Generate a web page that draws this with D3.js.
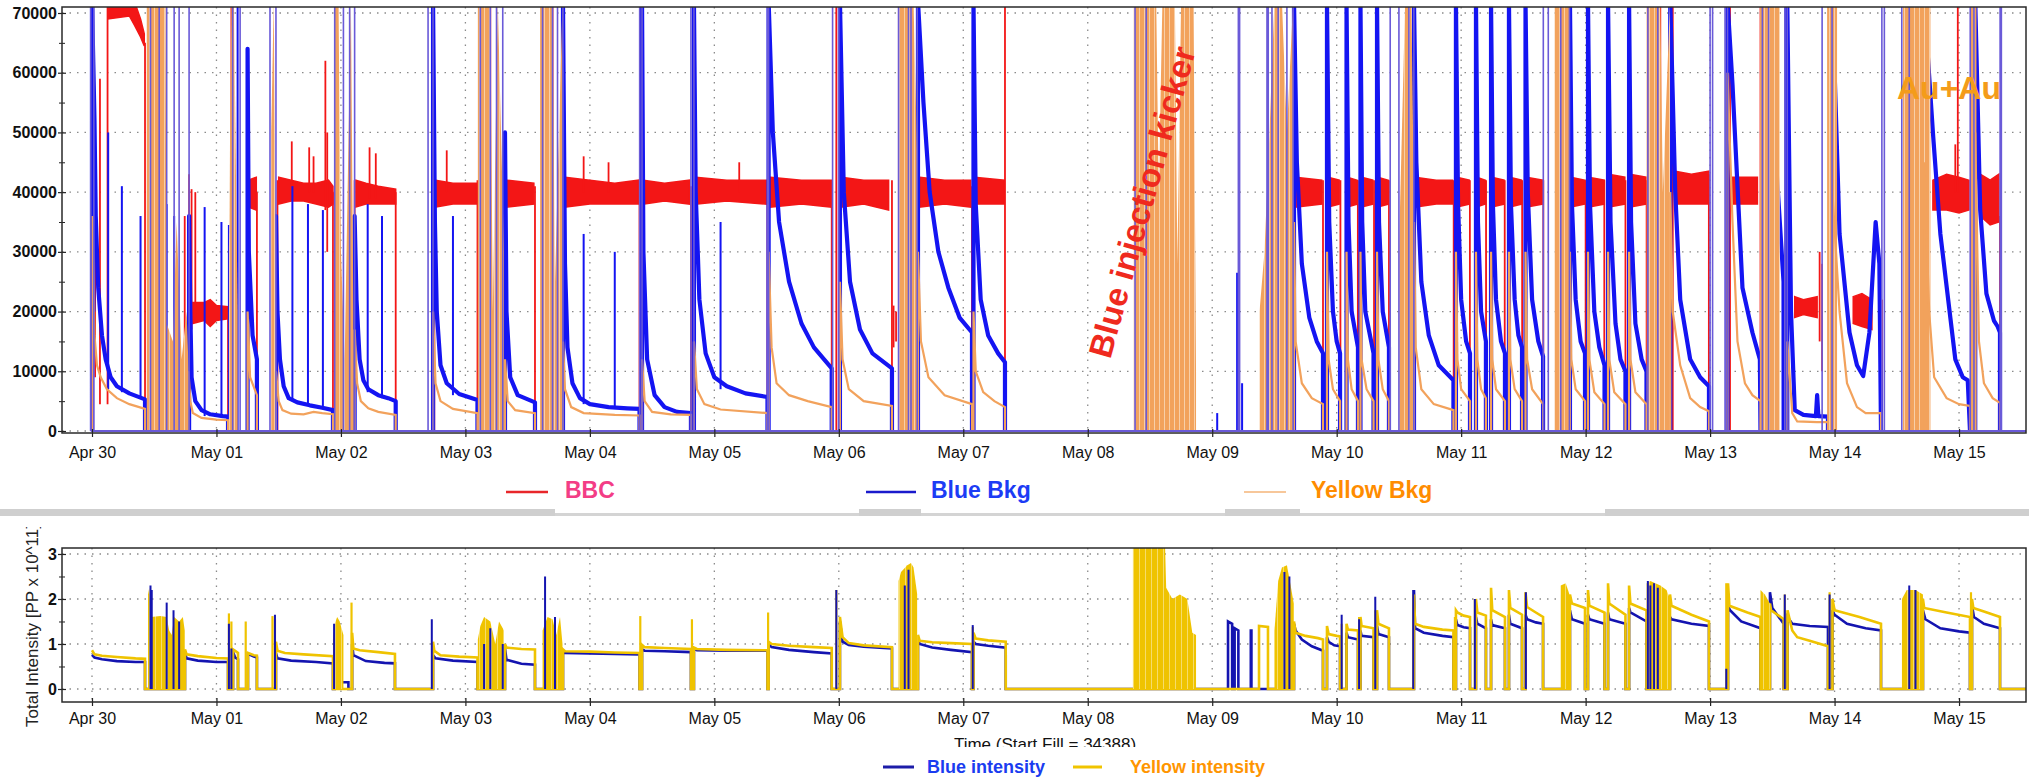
<!DOCTYPE html>
<html>
<head>
<meta charset="utf-8">
<script src="https://cdn.jsdelivr.net/npm/d3@7"></script>
<style>
  body { margin: 0; background: #fff; }
  svg { display: block; font-family: "Liberation Sans", Arial, Helvetica, sans-serif; }
</style>
</head>
<body>
<svg id="chart"></svg>
<script>
// Time is in days since Apr 30 00:00
const day_labels = ["Apr 30", "May 01", "May 02", "May 03", "May 04", "May 05", "May 06", "May 07",
    "May 08", "May 09", "May 10", "May 11", "May 12", "May 13", "May 14", "May 15"]
const bkg_ticks = [0, 10000, 20000, 30000, 40000, 50000, 60000, 70000]
const bkg_minor_ticks = [5000, 15000, 25000, 35000, 45000, 55000, 65000]
const intensity_ticks = [0, 1, 2, 3]
const intensity_minor_ticks = [0.5, 1.5, 2.5]

// ---------- top panel: backgrounds ----------
// BBC noise band per store: [day, low, high]
const bbc_band = [
    [[0.13, 69000, 74000], [0.3, 69500, 74000], [0.34, 68000, 72000], [0.39, 66000, 69000], [0.42, 64500, 66500]],
    [[0.81, 18000, 21500], [0.9, 18500, 21500], [0.95, 17500, 22000], [1.0, 18500, 21000], [1.09, 18800, 20800]],
    [[1.255, 37500, 42000], [1.32, 37000, 42500]],
    [[1.5, 38000, 42500], [1.6, 38500, 42000], [1.7, 38500, 41500], [1.8, 38000, 41500], [1.9, 37500, 42000], [1.936, 38000, 41000]],
    [[2.12, 37500, 42000], [2.2, 38000, 41500], [2.3, 38000, 41000], [2.44, 38000, 40500]],
    [[2.76, 37500, 42000], [2.9, 38000, 41500], [3.09, 38000, 41500]],
    [[3.33, 37500, 42000], [3.55, 38000, 41500]],
    [[3.8, 37500, 42500], [4.0, 38000, 42000], [4.2, 38000, 41500], [4.39, 38000, 42000]],
    [[4.43, 38000, 42000], [4.6, 38500, 41500], [4.8, 38000, 42000]],
    [[4.85, 38000, 42500], [5.1, 38500, 42000], [5.42, 38000, 42000]],
    [[5.45, 37500, 42500], [5.7, 38000, 42000], [5.94, 37500, 42000]],
    [[6.02, 37500, 42500], [6.2, 38000, 42000], [6.4, 37000, 42000]],
    [[6.65, 37500, 42500], [6.85, 38000, 42000], [7.06, 37500, 42000]],
    [[7.09, 38000, 42500], [7.33, 38000, 42000]],
    [[9.67, 37500, 42500], [9.88, 38000, 42000]],
    [[9.93, 37500, 42500], [10.02, 38000, 42000]],
    [[10.085, 37500, 42500], [10.165, 38000, 42000]],
    [[10.2, 37500, 42500], [10.29, 38000, 42000]],
    [[10.33, 37500, 42500], [10.415, 38000, 42000]],
    [[10.63, 37500, 42500], [10.8, 38000, 42000], [10.93, 38000, 42000]],
    [[10.965, 37500, 42500], [11.065, 38000, 42000]],
    [[11.125, 37500, 42500], [11.195, 38000, 42000]],
    [[11.245, 37500, 42500], [11.345, 38000, 42000]],
    [[11.39, 37500, 42500], [11.485, 38000, 42000]],
    [[11.525, 37500, 42500], [11.655, 38000, 42000]],
    [[11.88, 37500, 42500], [11.99, 38000, 42000]],
    [[12.025, 37500, 42500], [12.15, 38000, 42000]],
    [[12.185, 37500, 43000], [12.315, 38000, 42500]],
    [[12.355, 37500, 43000], [12.485, 38000, 42500]],
    [[12.72, 38000, 43500], [12.85, 38000, 43000], [12.99, 38000, 43500]],
    [[13.18, 38000, 42500], [13.38, 38000, 42500]],
    [[13.68, 19000, 22500], [13.75, 19500, 22000], [13.86, 19000, 22500]],
    [[14.15, 18000, 22500], [14.22, 17500, 23000], [14.3, 17000, 22000]],
    [[14.79, 37000, 42000], [14.9, 37000, 43000], [15.0, 36500, 42500], [15.08, 37000, 42000]],
    [[15.17, 36000, 43000], [15.25, 34500, 42000], [15.32, 35000, 43000]],
]
// BBC single excursions: [day, from, to]
const bbc_spikes = [
    [0.008, 0, 36000], [0.025, 9000, 32000], [0.064, 4500, 59000], [0.125, 4500, 72000], [0.426, 0, 65000],
    [0.745, 0, 36000], [0.78, 0, 43000], [0.8, 17000, 40500], [0.83, 19000, 40000], [1.093, 0, 20000],
    [1.12, 0, 72000], [1.25, 0, 42000], [1.325, 0, 40000],
    [1.49, 0, 42000], [1.605, 41000, 48500], [1.745, 40000, 47500], [1.78, 40000, 46000], [1.875, 37000, 62000],
    [1.89, 30000, 50000], [1.936, 0, 40000], [1.97, 0, 72000], [2.11, 0, 42000], [2.23, 39000, 47500],
    [2.28, 39000, 46500], [2.44, 0, 40000], [2.75, 0, 45000], [2.85, 40000, 47000], [3.097, 0, 42000],
    [3.2, 0, 72000], [3.32, 0, 42000], [3.559, 0, 41000], [3.7, 0, 72000], [3.79, 0, 45000], [3.95, 40000, 46000],
    [4.15, 40000, 45000], [4.399, 0, 42000], [4.42, 0, 43000], [4.812, 0, 41000], [4.84, 0, 44000],
    [5.2, 40000, 45000], [5.427, 0, 40000], [5.44, 0, 43000], [5.943, 0, 42000], [5.98, 0, 72000],
    [6.01, 0, 42000], [6.427, 0, 42000], [6.44, 14000, 21000], [6.46, 15000, 20000], [6.55, 0, 72000],
    [6.64, 0, 43000], [7.07, 0, 41000], [7.085, 0, 42000], [7.335, 0, 72000],
    [8.44, 10000, 40000], [8.65, 0, 30000], [8.76, 0, 41000],
    [9.66, 0, 42000], [9.89, 0, 42000], [9.925, 0, 42000], [10.03, 0, 42000], [10.08, 0, 42000], [10.17, 0, 42000],
    [10.19, 0, 42000], [10.3, 0, 42000], [10.325, 0, 42000], [10.42, 0, 42000], [10.62, 0, 72000], [10.94, 0, 42000],
    [10.96, 0, 42000], [11.07, 0, 42000], [11.12, 0, 42000], [11.2, 0, 42000], [11.24, 0, 72000], [11.35, 0, 42000],
    [11.385, 0, 42000], [11.49, 0, 42000], [11.52, 0, 42000], [11.66, 0, 42000], [11.8, 0, 72000], [11.875, 0, 42000],
    [12.0, 0, 42000], [12.02, 0, 42000], [12.15, 0, 42000], [12.18, 0, 72000], [12.32, 0, 42000], [12.35, 0, 42000],
    [12.49, 0, 42000], [12.55, 0, 72000], [12.6, 0, 72000], [12.7, 0, 72000], [12.99, 0, 43000], [13.16, 0, 72000],
    [13.405, 0, 72000], [13.42, 0, 72000], [13.5, 0, 72000], [13.88, 15000, 30000], [13.9, 10000, 28000],
    [14.0, 0, 72000], [14.38, 0, 22000], [14.6, 0, 72000], [14.97, 40000, 48000], [14.99, 40000, 72000], [15.329, 0, 36000],
]
// Blue Bkg per store: [day, counts]
const blue_bkg = [
    [[0, 0], [0, 72000], [0.02, 52000], [0.03, 36000], [0.05, 24000], [0.08, 16000], [0.11, 12000], [0.15, 9000], [0.2, 7500], [0.3, 6300], [0.426, 5300], [0.426, 0]],
    [[0.78, 0], [0.78, 36000], [0.79, 20000], [0.8, 9000], [0.83, 5000], [0.88, 3500], [0.95, 2800], [1.05, 2500], [1.093, 2400], [1.093, 0]],
    [[1.25, 0], [1.25, 64000], [1.26, 30000], [1.29, 16000], [1.325, 12000], [1.325, 0]],
    [[1.478, 0], [1.478, 36000], [1.49, 20000], [1.51, 12000], [1.54, 7500], [1.58, 5500], [1.65, 4800], [1.75, 4300], [1.85, 3900], [1.936, 3500], [1.936, 0]],
    [[2.11, 0], [2.11, 36000], [2.125, 22000], [2.15, 12000], [2.18, 8500], [2.22, 7000], [2.3, 6000], [2.38, 5500], [2.44, 5000], [2.44, 0]],
    [[2.74, 0], [2.74, 72000], [2.755, 35000], [2.77, 20000], [2.8, 11000], [2.85, 8000], [2.95, 6200], [3.097, 5200], [3.097, 0]],
    [[3.318, 0], [3.318, 50000], [3.33, 20000], [3.36, 9000], [3.42, 6000], [3.559, 4800], [3.559, 0]],
    [[3.784, 0], [3.784, 72000], [3.8, 28000], [3.82, 14000], [3.86, 8000], [3.92, 5500], [4.0, 4500], [4.15, 4000], [4.3, 3800], [4.399, 3700], [4.399, 0]],
    [[4.419, 0], [4.419, 72000], [4.43, 30000], [4.46, 12000], [4.52, 6000], [4.6, 4000], [4.7, 3200], [4.812, 3000], [4.812, 0]],
    [[4.836, 0], [4.836, 72000], [4.85, 40000], [4.88, 22000], [4.93, 13000], [5.0, 9000], [5.1, 7500], [5.25, 6300], [5.427, 5700], [5.427, 0]],
    [[5.436, 0], [5.436, 72000], [5.47, 50000], [5.52, 35000], [5.6, 25000], [5.7, 18000], [5.8, 14000], [5.943, 10500], [5.943, 0]],
    [[6.009, 0], [6.009, 72000], [6.04, 40000], [6.09, 25000], [6.17, 17000], [6.27, 13000], [6.427, 10500], [6.427, 0]],
    [[6.636, 0], [6.636, 72000], [6.68, 55000], [6.73, 40000], [6.8, 30000], [6.88, 24000], [6.97, 19000], [7.07, 16500], [7.07, 0]],
    [[7.082, 0], [7.082, 72000], [7.1, 38000], [7.14, 22000], [7.2, 16000], [7.28, 13000], [7.335, 11500], [7.335, 0]],
    [[9.657, 0], [9.657, 72000], [9.68, 45000], [9.72, 28000], [9.78, 19000], [9.84, 15000], [9.89, 13000], [9.89, 0]],
    [[9.922, 0], [9.922, 72000], [9.94, 35000], [9.97, 20000], [10.0, 15000], [10.027, 13000], [10.027, 0]],
    [[10.079, 0], [10.079, 72000], [10.095, 35000], [10.12, 20000], [10.171, 14000], [10.171, 0]],
    [[10.191, 0], [10.191, 72000], [10.205, 35000], [10.23, 20000], [10.296, 13000], [10.296, 0]],
    [[10.324, 0], [10.324, 72000], [10.34, 35000], [10.37, 20000], [10.42, 14000], [10.42, 0]],
    [[10.621, 0], [10.621, 72000], [10.64, 45000], [10.68, 25000], [10.74, 16000], [10.82, 11000], [10.938, 8500], [10.938, 0]],
    [[10.958, 0], [10.958, 72000], [10.975, 38000], [11.0, 22000], [11.04, 15000], [11.071, 13000], [11.071, 0]],
    [[11.119, 0], [11.119, 72000], [11.135, 35000], [11.16, 20000], [11.199, 15000], [11.199, 0]],
    [[11.24, 0], [11.24, 72000], [11.255, 38000], [11.28, 22000], [11.32, 15000], [11.352, 13000], [11.352, 0]],
    [[11.384, 0], [11.384, 72000], [11.4, 38000], [11.43, 22000], [11.46, 16000], [11.489, 14000], [11.489, 0]],
    [[11.517, 0], [11.517, 72000], [11.535, 40000], [11.57, 22000], [11.62, 15000], [11.658, 12500], [11.658, 0]],
    [[11.874, 0], [11.874, 72000], [11.89, 38000], [11.92, 22000], [11.96, 15000], [11.995, 13000], [11.995, 0]],
    [[12.019, 0], [12.019, 72000], [12.035, 38000], [12.07, 20000], [12.11, 14000], [12.152, 11000], [12.152, 0]],
    [[12.18, 0], [12.18, 72000], [12.2, 35000], [12.24, 18000], [12.28, 12000], [12.32, 10000], [12.32, 0]],
    [[12.349, 0], [12.349, 72000], [12.365, 35000], [12.4, 18000], [12.45, 12000], [12.489, 10000], [12.489, 0]],
    [[12.68, 0], [12.68, 72000], [12.72, 40000], [12.76, 22000], [12.84, 12000], [12.92, 9000], [12.991, 7500], [12.991, 0]],
    [[13.14, 0], [13.14, 72000], [13.18, 58000], [13.26, 24000], [13.34, 16500], [13.4, 12000], [13.405, 0]],
    [[13.481, 0], [13.481, 72000], [13.53, 45000], [13.59, 25000], [13.591, 0]],
    [[13.62, 0], [13.62, 72000], [13.65, 20000], [13.68, 3500], [13.75, 2700], [13.85, 2500], [13.86, 6000], [13.87, 2500], [13.947, 2400], [13.947, 0]],
    [[13.983, 0], [13.983, 72000], [14.04, 33000], [14.12, 16500], [14.18, 11000], [14.23, 9200], [14.28, 16500], [14.33, 35000], [14.36, 28000], [14.373, 0]],
    [[14.72, 0], [14.72, 72000], [14.79, 50000], [14.85, 33000], [14.93, 19000], [14.97, 12000], [15.03, 9000], [15.07, 8500], [15.088, 0]],
    [[15.13, 0], [15.13, 72000], [15.17, 37000], [15.22, 23000], [15.28, 18500], [15.31, 17500], [15.329, 16500], [15.329, 0]],
]
const blue_bkg_spikes = [
    [0.02, 20000, 47000], [0.13, 7000, 50000], [0.24, 6500, 41000], [0.39, 5500, 36000], [0.6, 0, 38000], [0.66, 0, 36000],
    [0.905, 2500, 37500], [1.04, 2400, 35000], [1.1, 0, 34500], [1.17, 0, 72000], [1.61, 5000, 41000], [1.735, 4500, 38000],
    [1.855, 4000, 37000], [2.215, 6500, 38000], [2.33, 5500, 36000], [2.9, 6000, 36000], [3.95, 4500, 33000],
    [4.2, 4000, 30000], [5.05, 7000, 35000], [9.04, 0, 3000], [9.2, 0, 26500], [9.24, 0, 8000],
]
// Yellow Bkg per store: [day, counts]
const yellow_bkg = [
    [[0.005, 0], [0.005, 36000], [0.02, 16000], [0.04, 11000], [0.07, 9000], [0.12, 7000], [0.2, 5500], [0.3, 4500], [0.426, 3700], [0.426, 0]],
    [[0.775, 0], [0.775, 10000], [0.79, 5000], [0.81, 3000], [0.88, 2200], [1.0, 1900], [1.093, 1800], [1.093, 0]],
    [[1.25, 0], [1.25, 20000], [1.27, 9000], [1.325, 6000], [1.325, 0]],
    [[1.478, 0], [1.478, 10000], [1.5, 5000], [1.53, 3500], [1.6, 2900], [1.7, 2800], [1.78, 3200], [1.85, 3000], [1.936, 2800], [1.936, 0]],
    [[2.11, 0], [2.11, 17000], [2.13, 8000], [2.16, 5000], [2.22, 3800], [2.3, 3200], [2.44, 2700], [2.44, 0]],
    [[2.74, 0], [2.74, 20000], [2.76, 8000], [2.8, 5000], [2.9, 3700], [3.097, 3000], [3.097, 0]],
    [[3.318, 0], [3.318, 12000], [3.34, 5000], [3.4, 3500], [3.559, 3000], [3.559, 0]],
    [[3.784, 0], [3.784, 15000], [3.8, 7000], [3.85, 4000], [3.95, 3000], [4.2, 2700], [4.399, 2600], [4.399, 0]],
    [[4.419, 0], [4.419, 12000], [4.44, 5000], [4.5, 3200], [4.65, 2800], [4.812, 2700], [4.812, 0]],
    [[4.836, 0], [4.836, 15000], [4.86, 7000], [4.92, 4500], [5.05, 3600], [5.427, 3000], [5.427, 0]],
    [[5.436, 0], [5.436, 30000], [5.46, 14000], [5.5, 8000], [5.6, 6000], [5.75, 5000], [5.943, 4000], [5.943, 0]],
    [[6.009, 0], [6.009, 25000], [6.03, 12000], [6.08, 7000], [6.2, 5000], [6.427, 4200], [6.427, 0]],
    [[6.636, 0], [6.636, 30000], [6.66, 15000], [6.72, 9000], [6.85, 6000], [7.07, 4500], [7.07, 0]],
    [[7.082, 0], [7.082, 20000], [7.1, 10000], [7.16, 6500], [7.25, 5000], [7.335, 4000], [7.335, 0]],
    [[9.657, 0], [9.657, 35000], [9.67, 15000], [9.72, 8000], [9.8, 5500], [9.89, 4500], [9.89, 0]],
    [[9.922, 0], [9.922, 30000], [9.935, 12000], [9.97, 7000], [10.027, 5000], [10.027, 0]],
    [[10.079, 0], [10.079, 30000], [10.09, 12000], [10.12, 7000], [10.171, 5000], [10.171, 0]],
    [[10.191, 0], [10.191, 30000], [10.2, 12000], [10.24, 7000], [10.296, 5000], [10.296, 0]],
    [[10.324, 0], [10.324, 30000], [10.335, 12000], [10.37, 7000], [10.42, 5000], [10.42, 0]],
    [[10.621, 0], [10.621, 35000], [10.635, 14000], [10.68, 7000], [10.78, 4500], [10.938, 3500], [10.938, 0]],
    [[10.958, 0], [10.958, 30000], [10.97, 12000], [11.0, 7000], [11.071, 5000], [11.071, 0]],
    [[11.119, 0], [11.119, 30000], [11.13, 12000], [11.16, 7000], [11.199, 5500], [11.199, 0]],
    [[11.24, 0], [11.24, 30000], [11.25, 12000], [11.28, 7000], [11.352, 5000], [11.352, 0]],
    [[11.384, 0], [11.384, 30000], [11.395, 12000], [11.43, 7000], [11.489, 5000], [11.489, 0]],
    [[11.517, 0], [11.517, 30000], [11.53, 12000], [11.57, 7000], [11.658, 4500], [11.658, 0]],
    [[11.874, 0], [11.874, 30000], [11.885, 12000], [11.92, 7000], [11.995, 5000], [11.995, 0]],
    [[12.019, 0], [12.019, 30000], [12.03, 12000], [12.07, 6500], [12.152, 4500], [12.152, 0]],
    [[12.18, 0], [12.18, 30000], [12.19, 12000], [12.23, 6500], [12.32, 4500], [12.32, 0]],
    [[12.349, 0], [12.349, 30000], [12.36, 12000], [12.4, 6500], [12.489, 4500], [12.489, 0]],
    [[12.68, 0], [12.68, 40000], [12.7, 20000], [12.76, 11000], [12.84, 5500], [12.92, 4000], [12.991, 3300], [12.991, 0]],
    [[13.14, 0], [13.14, 60000], [13.18, 35000], [13.22, 15000], [13.28, 8000], [13.34, 6000], [13.405, 5000], [13.405, 0]],
    [[13.62, 0], [13.62, 15000], [13.66, 3000], [13.7, 1600], [13.86, 1500], [13.947, 1500], [13.947, 0]],
    [[13.983, 0], [13.983, 40000], [14.04, 20000], [14.1, 8000], [14.18, 4000], [14.25, 3000], [14.373, 3000], [14.373, 0]],
    [[14.72, 0], [14.72, 45000], [14.76, 20000], [14.8, 9000], [14.9, 5500], [15.0, 4500], [15.088, 4200], [15.088, 0]],
    [[15.13, 0], [15.13, 50000], [15.16, 15000], [15.2, 8000], [15.27, 5500], [15.329, 4700], [15.329, 0]],
]
// dense Yellow Bkg bursts during injection: [day, envelope top]
const yellow_bkg_bursts = [
    [[0.44, 72000], [0.59, 72000], [0.6, 18000], [0.65, 15000], [0.68, 35000], [0.72, 12000], [0.76, 20000], [0.78, 8000]],
    [[1.1, 30000], [1.12, 72000], [1.14, 72000], [1.17, 20000]],
    [[1.44, 50000], [1.46, 72000], [1.478, 30000]],
    [[1.945, 72000], [1.98, 72000], [2.0, 30000], [2.03, 12000], [2.08, 72000], [2.1, 20000]],
    [[3.1, 72000], [3.2, 72000], [3.22, 20000], [3.26, 72000], [3.31, 30000]],
    [[3.6, 72000], [3.7, 72000], [3.72, 25000], [3.78, 72000]],
    [[6.475, 72000], [6.6, 72000], [6.636, 40000]],
    [[8.37, 72000], [8.55, 72000], [8.57, 40000], [8.6, 72000], [8.7, 72000], [8.72, 28000], [8.75, 72000], [8.85, 72000], [8.87, 10000]],
    [[9.38, 20000], [9.42, 30000], [9.46, 50000], [9.5, 72000], [9.56, 72000], [9.6, 50000], [9.65, 72000]],
    [[10.5, 30000], [10.55, 72000], [10.6, 72000], [10.62, 40000]],
    [[11.75, 72000], [11.87, 72000]],
    [[12.49, 72000], [12.6, 72000], [12.62, 40000], [12.678, 72000]],
    [[13.4, 72000], [13.56, 72000]],
    [[13.94, 72000], [14.02, 72000]],
    [[14.55, 72000], [14.77, 72000]],
    [[15.09, 72000], [15.14, 72000]],
]
// both backgrounds off scale: [from day, to day]
const off_scale = [
    [-0.01, 0.015], [0.47, 0.54], [0.6, 0.66], [0.7, 0.78], [1.13, 1.19], [1.43, 1.478], [1.95, 2.02], [2.07, 2.11],
    [2.7, 2.74], [3.12, 3.2], [3.25, 3.3], [3.62, 3.7], [3.74, 3.784], [4.4, 4.419], [4.812, 4.836], [5.427, 5.436],
    [5.95, 6.0], [6.48, 6.56], [6.58, 6.63], [8.38, 8.47], [9.21, 9.22], [9.44, 9.45], [9.48, 9.53], [9.6, 9.65],
    [10.43, 10.5], [10.58, 10.62], [11.66, 11.7], [11.8, 11.87], [12.5, 12.58], [13.0, 13.02], [13.12, 13.14],
    [13.42, 13.47], [13.6, 13.62], [13.9, 13.98], [14.38, 14.4], [14.54, 14.6], [15.09, 15.12], [15.33, 15.34],
]

// ---------- bottom panel: intensities [day, 10^11] ----------
const blue_intensity = [
    [0, 0.76], [0.02, 0.7], [0.08, 0.66], [0.2, 0.62], [0.35, 0.6], [0.426, 0.6], [0.426, 0],
    [0.747, 0], [0.747, 0.8], [0.76, 0.68], [0.85, 0.63], [1.0, 0.6], [1.093, 0.6], [1.093, 0],
    [1.133, 0], [1.133, 0.82], [1.15, 0.7], [1.173, 0.66], [1.173, 0],
    [1.253, 0], [1.253, 0.78], [1.3, 0.72], [1.325, 0.7], [1.325, 0],
    [1.478, 0], [1.478, 0.8], [1.49, 0.68], [1.6, 0.63], [1.8, 0.6], [1.936, 0.57], [1.936, 0],
    [1.95, 0], [1.95, 0.15], [2.06, 0.15], [2.06, 0],
    [2.09, 0], [2.09, 1.0], [2.1, 0.75], [2.2, 0.62], [2.35, 0.58], [2.434, 0.57], [2.434, 0],
    [2.74, 0], [2.74, 0.75], [2.76, 0.68], [2.9, 0.63], [3.097, 0.6], [3.097, 0],
    [3.318, 0], [3.318, 0.9], [3.33, 0.65], [3.45, 0.56], [3.559, 0.54], [3.559, 0],
    [3.784, 0], [3.784, 0.85], [3.8, 0.8], [4.0, 0.79], [4.2, 0.78], [4.399, 0.77], [4.399, 0],
    [4.419, 0], [4.419, 0.88], [4.44, 0.85], [4.6, 0.84], [4.812, 0.82], [4.812, 0],
    [4.836, 0], [4.836, 0.9], [4.86, 0.86], [5.1, 0.85], [5.427, 0.85], [5.427, 0],
    [5.436, 0], [5.436, 1.0], [5.46, 0.93], [5.6, 0.87], [5.8, 0.82], [5.943, 0.79], [5.943, 0],
    [6.009, 0], [6.009, 1.5], [6.03, 1.05], [6.08, 0.98], [6.2, 0.94], [6.427, 0.9], [6.427, 0],
    [6.636, 0], [6.636, 1.1], [6.65, 1.0], [6.75, 0.92], [6.9, 0.87], [7.07, 0.82], [7.07, 0],
    [7.082, 0], [7.082, 1.05], [7.1, 1.0], [7.2, 0.96], [7.341, 0.92], [7.341, 0],
    [9.127, 0], [9.127, 1.5], [9.16, 1.45], [9.16, 0], [9.18, 0], [9.18, 1.35], [9.21, 1.3], [9.21, 0],
    [9.31, 0], [9.31, 1.3], [9.315, 1.3], [9.315, 0],
    [9.657, 0], [9.657, 1.45], [9.67, 1.3], [9.72, 1.1], [9.8, 0.95], [9.89, 0.85], [9.89, 0],
    [9.922, 0], [9.922, 1.15], [9.935, 1.05], [9.98, 0.97], [10.027, 0.95], [10.027, 0],
    [10.079, 0], [10.079, 1.25], [10.09, 1.15], [10.171, 1.1], [10.171, 0],
    [10.191, 0], [10.191, 1.3], [10.2, 1.18], [10.296, 1.15], [10.296, 0],
    [10.324, 0], [10.324, 1.4], [10.335, 1.22], [10.42, 1.15], [10.42, 0],
    [10.621, 0], [10.621, 2.2], [10.63, 1.35], [10.7, 1.25], [10.85, 1.18], [10.938, 1.15], [10.938, 0],
    [10.958, 0], [10.958, 1.55], [10.97, 1.42], [11.02, 1.37], [11.071, 1.35], [11.071, 0],
    [11.119, 0], [11.119, 1.6], [11.13, 1.45], [11.199, 1.35], [11.199, 0],
    [11.24, 0], [11.24, 1.55], [11.25, 1.42], [11.352, 1.35], [11.352, 0],
    [11.384, 0], [11.384, 1.65], [11.395, 1.45], [11.489, 1.35], [11.489, 0],
    [11.517, 0], [11.517, 1.65], [11.53, 1.55], [11.6, 1.48], [11.658, 1.45], [11.658, 0],
    [11.874, 0], [11.874, 1.75], [11.89, 1.55], [11.995, 1.45], [11.995, 0],
    [12.019, 0], [12.019, 1.65], [12.03, 1.55], [12.152, 1.45], [12.152, 0],
    [12.18, 0], [12.18, 1.7], [12.19, 1.55], [12.32, 1.45], [12.32, 0],
    [12.349, 0], [12.349, 1.8], [12.36, 1.7], [12.489, 1.5], [12.489, 0],
    [12.678, 0], [12.678, 1.6], [12.69, 1.55], [12.85, 1.45], [12.991, 1.4], [12.991, 0],
    [13.144, 0], [13.144, 1.85], [13.16, 1.75], [13.25, 1.5], [13.405, 1.35], [13.405, 0],
    [13.481, 0], [13.481, 2.15], [13.5, 1.8], [13.591, 1.45], [13.591, 0],
    [13.622, 0], [13.622, 1.6], [13.66, 1.45], [13.8, 1.4], [13.947, 1.38], [13.947, 0],
    [13.983, 0], [13.983, 1.75], [14.0, 1.65], [14.1, 1.45], [14.25, 1.35], [14.373, 1.3], [14.373, 0],
    [14.71, 0], [14.71, 1.75], [14.73, 1.55], [14.85, 1.35], [15.0, 1.28], [15.088, 1.25], [15.088, 0],
    [15.104, 0], [15.104, 1.85], [15.12, 1.6], [15.2, 1.45], [15.329, 1.35], [15.329, 0],
    [15.54, 0],
]
const yellow_intensity = [
    [0, 0.86], [0.02, 0.77], [0.08, 0.74], [0.2, 0.71], [0.35, 0.68], [0.426, 0.67], [0.426, 0],
    [0.747, 0], [0.747, 0.88], [0.76, 0.77], [0.85, 0.73], [1.0, 0.69], [1.093, 0.68], [1.093, 0],
    [1.133, 0], [1.133, 0.88], [1.15, 0.85], [1.173, 0.8], [1.173, 0],
    [1.253, 0], [1.253, 0.8], [1.3, 0.75], [1.325, 0.74], [1.325, 0],
    [1.478, 0], [1.478, 1.05], [1.49, 0.85], [1.55, 0.8], [1.7, 0.77], [1.936, 0.73], [1.936, 0],
    [2.09, 0], [2.09, 1.25], [2.1, 0.9], [2.15, 0.86], [2.3, 0.82], [2.434, 0.78], [2.434, 0],
    [2.74, 0], [2.74, 1.05], [2.75, 0.85], [2.8, 0.75], [2.95, 0.72], [3.097, 0.7], [3.097, 0],
    [3.318, 0], [3.318, 1.0], [3.33, 0.92], [3.45, 0.89], [3.559, 0.88], [3.559, 0],
    [3.784, 0], [3.784, 0.88], [3.8, 0.84], [4.0, 0.83], [4.2, 0.81], [4.399, 0.8], [4.399, 0],
    [4.419, 0], [4.419, 0.98], [4.44, 0.93], [4.6, 0.91], [4.812, 0.89], [4.812, 0],
    [4.836, 0], [4.836, 0.92], [4.86, 0.89], [5.1, 0.87], [5.427, 0.86], [5.427, 0],
    [5.436, 0], [5.436, 1.05], [5.46, 1.0], [5.6, 0.96], [5.8, 0.93], [5.943, 0.91], [5.943, 0],
    [6.009, 0], [6.009, 1.6], [6.03, 1.15], [6.08, 1.02], [6.2, 0.97], [6.427, 0.93], [6.427, 0],
    [6.636, 0], [6.636, 1.2], [6.65, 1.07], [6.75, 1.04], [6.9, 1.02], [7.07, 1.0], [7.07, 0],
    [7.082, 0], [7.082, 1.25], [7.1, 1.12], [7.2, 1.08], [7.341, 1.05], [7.341, 0],
    [9.376, 0], [9.376, 1.4], [9.448, 1.38], [9.448, 0],
    [9.657, 0], [9.657, 1.5], [9.67, 1.25], [9.75, 1.18], [9.85, 1.13], [9.89, 1.1], [9.89, 0],
    [9.922, 0], [9.922, 1.4], [9.935, 1.22], [10.0, 1.18], [10.027, 1.17], [10.027, 0],
    [10.079, 0], [10.079, 1.45], [10.09, 1.32], [10.171, 1.3], [10.171, 0],
    [10.191, 0], [10.191, 1.6], [10.2, 1.4], [10.296, 1.35], [10.296, 0],
    [10.324, 0], [10.324, 1.75], [10.335, 1.45], [10.42, 1.35], [10.42, 0],
    [10.621, 0], [10.621, 2.1], [10.63, 1.45], [10.7, 1.38], [10.85, 1.32], [10.938, 1.3], [10.938, 0],
    [10.958, 0], [10.958, 1.75], [10.97, 1.7], [11.02, 1.63], [11.071, 1.6], [11.071, 0],
    [11.119, 0], [11.119, 2.0], [11.13, 1.7], [11.199, 1.63], [11.199, 0],
    [11.24, 0], [11.24, 2.25], [11.25, 1.75], [11.352, 1.6], [11.352, 0],
    [11.384, 0], [11.384, 2.2], [11.395, 1.8], [11.489, 1.65], [11.489, 0],
    [11.517, 0], [11.517, 2.15], [11.53, 1.82], [11.6, 1.7], [11.658, 1.6], [11.658, 0],
    [11.874, 0], [11.874, 2.1], [11.89, 1.9], [11.995, 1.8], [11.995, 0],
    [12.019, 0], [12.019, 2.2], [12.03, 1.85], [12.152, 1.7], [12.152, 0],
    [12.18, 0], [12.18, 2.35], [12.19, 1.9], [12.32, 1.65], [12.32, 0],
    [12.349, 0], [12.349, 2.3], [12.36, 1.9], [12.489, 1.75], [12.489, 0],
    [12.678, 0], [12.678, 2.1], [12.69, 1.85], [12.85, 1.65], [12.991, 1.5], [12.991, 0],
    [13.144, 0], [13.144, 2.35], [13.155, 1.85], [13.3, 1.7], [13.405, 1.6], [13.405, 0],
    [13.481, 0], [13.481, 1.9], [13.49, 1.75], [13.591, 1.55], [13.591, 0],
    [13.622, 0], [13.622, 1.75], [13.66, 1.3], [13.7, 1.15], [13.8, 1.07], [13.947, 0.95], [13.947, 0],
    [13.983, 0], [13.983, 2.0], [14.0, 1.75], [14.2, 1.6], [14.373, 1.45], [14.373, 0],
    [14.71, 0], [14.71, 2.0], [14.72, 1.8], [14.9, 1.7], [15.088, 1.6], [15.088, 0],
    [15.104, 0], [15.104, 2.0], [15.115, 1.8], [15.2, 1.72], [15.329, 1.6], [15.329, 0],
    [15.54, 0],
]
const yellow_intensity_bursts = [
    [[0.45, 2.1], [0.46, 2.25], [0.475, 1.6], [0.55, 1.62], [0.6, 1.6], [0.62, 1.3], [0.64, 1.2], [0.66, 1.6], [0.7, 1.5], [0.73, 1.6], [0.745, 1.3]],
    [[1.936, 1.1], [1.95, 1.45], [1.97, 1.6], [1.99, 1.5], [2.02, 1.2]],
    [[3.1, 1.1], [3.12, 1.4], [3.15, 1.6], [3.2, 1.5], [3.24, 1.0], [3.27, 1.5], [3.31, 1.3]],
    [[3.62, 1.3], [3.66, 1.6], [3.7, 1.55], [3.73, 1.2], [3.76, 1.6], [3.78, 1.0]],
    [[6.48, 2.4], [6.5, 2.6], [6.55, 2.75], [6.58, 2.8], [6.6, 2.7], [6.63, 2.1]],
    [[8.363, 3.3], [8.62, 3.3], [8.63, 2.25], [8.68, 2.0], [8.74, 2.1], [8.8, 2.0], [8.84, 1.25], [8.87, 1.2]],
    [[9.5, 1.3], [9.53, 2.4], [9.56, 2.7], [9.6, 2.75], [9.63, 2.3], [9.655, 1.9]],
    [[11.8, 2.3], [11.84, 2.35], [11.87, 2.1]],
    [[12.49, 2.35], [12.52, 2.4], [12.6, 2.3], [12.65, 2.2], [12.678, 2.0]],
    [[13.405, 2.2], [13.44, 2.1], [13.48, 1.9]],
    [[14.541, 2.0], [14.58, 2.2], [14.65, 2.2], [14.71, 2.1]],
]
const yellow_intensity_spikes = [
    [1.1, 1.68], [1.12, 1.5], [1.235, 1.5], [1.45, 1.62], [1.47, 1.55], [2.085, 1.92], [4.405, 1.62], [4.82, 1.55],
    [5.432, 1.7], [5.98, 2.2], [7.076, 1.38], [10.04, 1.45], [10.18, 1.6], [10.31, 1.75], [10.615, 2.1], [10.95, 1.6],
    [11.11, 2.0], [11.52, 2.15], [13.13, 2.35], [13.6, 2.1], [13.96, 2.15], [15.096, 2.15],
]
const blue_intensity_spikes = [
    [0.47, 2.3], [0.48, 2.2], [0.6, 1.92], [0.655, 1.75], [0.7, 1.5], [1.1, 1.45], [1.12, 0.9], [1.47, 1.65],
    [1.945, 1.45], [2.73, 1.55], [3.15, 1.0], [3.2, 1.35], [3.3, 1.0], [3.64, 2.5], [3.72, 1.6], [5.98, 2.2],
    [6.53, 2.3], [6.56, 2.65], [7.076, 1.42], [9.58, 2.6], [9.62, 2.5], [10.04, 1.65], [10.18, 1.55], [10.31, 2.05],
    [10.615, 2.2], [11.11, 2.0], [11.52, 2.15], [12.5, 2.4], [12.52, 2.3], [12.55, 2.35], [12.58, 2.25], [13.13, 0.45],
    [13.6, 2.1], [13.96, 2.1], [14.6, 2.3], [14.65, 2.2],
]

function draw_chart() {
    const width = 2029
    const height = 779
    const left = 62
    const right = 2026
    const font = '"Liberation Sans", Arial, Helvetica, sans-serif'

    const x = d3.scaleLinear().domain([-0.241, 15.538]).range([left, right])
    const y_bkg = d3.scaleLinear().domain([-335, 71005]).range([433, 7])
    const y_int = d3.scaleLinear().domain([-0.289, 3.133]).range([702, 548])

    const svg = d3.select("svg")
        .attr("width", width)
        .attr("height", height)

    const defs = svg.append("defs")
    defs.append("clipPath").attr("id", "clip_top").append("rect")
        .attr("x", left).attr("y", 7).attr("width", right - left).attr("height", 426)
    defs.append("clipPath").attr("id", "clip_bot").append("rect")
        .attr("x", left).attr("y", 548).attr("width", right - left).attr("height", 154)
    defs.append("clipPath").attr("id", "clip_time").append("rect")
        .attr("x", 0).attr("y", 700).attr("width", width).attr("height", 47)
    defs.append("clipPath").attr("id", "clip_ylabel").append("rect")
        .attr("x", 0).attr("y", 527).attr("width", 60).attr("height", 250)

    // stripes to fake the very dense injection spikes
    const stripes = defs.append("pattern").attr("id", "orange_stripes")
        .attr("patternUnits", "userSpaceOnUse").attr("width", 5).attr("height", 10)
    stripes.append("rect").attr("width", 5).attr("height", 10).attr("fill", "#f8cfa8")
    stripes.append("rect").attr("width", 4).attr("height", 10).attr("fill", "#f2a25c")
    const yellow_stripes = defs.append("pattern").attr("id", "yellow_stripes")
        .attr("patternUnits", "userSpaceOnUse").attr("width", 6).attr("height", 10)
    yellow_stripes.append("rect").attr("width", 6).attr("height", 10).attr("fill", "#f6dc6a")
    yellow_stripes.append("rect").attr("width", 5).attr("height", 10).attr("fill", "#efc300")

    // dotted grid
    function draw_grid(y_scale, y_ticks) {
        const [y_bottom, y_top] = y_scale.range()
        const g = svg.append("g")
            .attr("stroke", "#8a8a8a")
            .attr("stroke-width", 1.3)
            .attr("stroke-dasharray", "1.5,6")
        g.selectAll("line.v").data(d3.range(day_labels.length)).join("line")
            .attr("class", "v")
            .attr("x1", d => x(d)).attr("x2", d => x(d))
            .attr("y1", y_top).attr("y2", y_bottom)
        g.selectAll("line.h").data(y_ticks).join("line")
            .attr("class", "h")
            .attr("x1", left).attr("x2", right)
            .attr("y1", d => y_scale(d)).attr("y2", d => y_scale(d))
    }

    function draw_axes(y_scale, y_ticks, y_minor, y_format, pad) {
        const [y_bottom, y_top] = y_scale.range()

        const ax = svg.append("g")
            .attr("transform", `translate(0,${y_bottom})`)
            .call(d3.axisBottom(x)
                .tickValues(d3.range(day_labels.length))
                .tickFormat(i => day_labels[i])
                .tickSize(4)
                .tickPadding(pad))
        ax.select(".domain").remove()
        ax.selectAll(".tick line").attr("y1", -4).attr("y2", 4).attr("stroke", "#222").attr("stroke-width", 1.2)
        ax.selectAll(".tick text")
            .attr("font-family", font).attr("font-size", 16).attr("fill", "#111")

        const ay = svg.append("g")
            .attr("transform", `translate(${left},0)`)
            .call(d3.axisLeft(y_scale).tickValues(y_ticks).tickFormat(y_format).tickSize(4).tickPadding(1))
        ay.select(".domain").remove()
        ay.selectAll(".tick line").attr("x1", -4).attr("x2", 4).attr("stroke", "#222").attr("stroke-width", 1.2)
        ay.selectAll(".tick text")
            .attr("font-family", font).attr("font-size", 16).attr("font-weight", "bold").attr("fill", "#111")

        const am = svg.append("g")
            .attr("transform", `translate(${left},0)`)
            .call(d3.axisLeft(y_scale).tickValues(y_minor).tickFormat("").tickSize(3))
        am.select(".domain").remove()
        am.selectAll(".tick line").attr("x1", -3).attr("x2", 3).attr("stroke", "#222")

        svg.append("rect")
            .attr("x", left).attr("y", y_top)
            .attr("width", right - left).attr("height", y_bottom - y_top)
            .attr("fill", "none").attr("stroke", "#2a2a2a").attr("stroke-width", 1.5)
    }

    // ---------------- top panel ----------------
    draw_grid(y_bkg, bkg_ticks)

    const g_top = svg.append("g").attr("clip-path", "url(#clip_top)")
    const band = d3.area().x(d => x(d[0])).y0(d => y_bkg(d[1])).y1(d => y_bkg(d[2]))
    const bkg_line = d3.line().x(d => x(d[0])).y(d => y_bkg(d[1]))
    const burst_area = d3.area().x(d => x(d[0])).y0(y_bkg(0)).y1(d => y_bkg(d[1]))

    function draw_spikes(g, data, color, w) {
        g.append("g").selectAll("line").data(data).join("line")
            .attr("x1", d => x(d[0])).attr("x2", d => x(d[0]))
            .attr("y1", d => y_bkg(d[1])).attr("y2", d => y_bkg(d[2]))
            .attr("stroke", color).attr("stroke-width", w)
    }

    // BBC
    g_top.append("g").selectAll("path").data(bbc_band).join("path")
        .attr("d", band)
        .attr("fill", "#f31616")
        .attr("stroke", "#f31616")
        .attr("stroke-width", 1.5)
    draw_spikes(g_top, bbc_spikes, "#f31616", 1.8)

    // Blue Bkg
    g_top.append("g").selectAll("path").data(blue_bkg).join("path")
        .attr("d", bkg_line)
        .attr("fill", "none")
        .attr("stroke", "#1414f2")
        .attr("stroke-width", 4.2)
        .attr("stroke-linejoin", "round")
    draw_spikes(g_top, blue_bkg_spikes, "#1414f2", 2)

    // Yellow Bkg
    g_top.append("g").selectAll("path").data(yellow_bkg_bursts).join("path")
        .attr("d", burst_area)
        .attr("fill", "url(#orange_stripes)")
    g_top.append("g").selectAll("path").data(yellow_bkg).join("path")
        .attr("d", bkg_line)
        .attr("fill", "none")
        .attr("stroke", "#f2a25c")
        .attr("stroke-width", 2.2)

    // off-scale windows and empty ring baseline
    g_top.append("line")
        .attr("x1", x(-0.01)).attr("x2", right)
        .attr("y1", y_bkg(0)).attr("y2", y_bkg(0))
        .attr("stroke", "#6a5ad8").attr("stroke-width", 2)
    g_top.append("g").selectAll("path").data(off_scale).join("path")
        .attr("d", d => `M${x(d[0])},${y_bkg(0)}V${y_bkg(72000)}H${x(d[1])}V${y_bkg(0)}`)
        .attr("fill", "none")
        .attr("stroke", "#6a5ad8")
        .attr("stroke-width", 1.6)

    draw_axes(y_bkg, bkg_ticks, bkg_minor_ticks, d3.format("d"), 10)

    // annotations
    svg.append("text")
        .attr("transform", "translate(1142,202) rotate(-74.5)")
        .attr("text-anchor", "middle")
        .attr("dominant-baseline", "central")
        .attr("font-family", font).attr("font-size", 33).attr("font-weight", "bold")
        .attr("fill", "#ef2a1e")
        .text("Blue injection kicker")
    svg.append("text")
        .attr("x", 1897).attr("y", 88)
        .attr("dominant-baseline", "central")
        .attr("font-family", font).attr("font-size", 32).attr("font-weight", "bold")
        .attr("fill", "#f49c1a")
        .text("Au+Au")

    // top legend
    const top_legend = [
        {label: "BBC", x1: 506, x2: 548, tx: 565, line: "#e8262a", text: "#f33d86", w: 2.5},
        {label: "Blue Bkg", x1: 866, x2: 916, tx: 931, line: "#1a1acc", text: "#1c3cf5", w: 2.5},
        {label: "Yellow Bkg", x1: 1244, x2: 1286, tx: 1311, line: "#f7c79a", text: "#ff8c00", w: 2},
    ]
    top_legend.forEach(function(d) {
        svg.append("line").attr("x1", d.x1).attr("x2", d.x2).attr("y1", 492).attr("y2", 492)
            .attr("stroke", d.line).attr("stroke-width", d.w)
        svg.append("text").attr("x", d.tx).attr("y", 490)
            .attr("dominant-baseline", "central")
            .attr("font-family", font).attr("font-size", 23).attr("font-weight", "bold")
            .attr("fill", d.text).text(d.label)
    })

    // grey separator between the two screenshots
    svg.append("rect").attr("x", 0).attr("y", 513).attr("width", width).attr("height", 3).attr("fill", "#d4d4d4")
    const thick = [[0, 555], [859, 921], [1225, 1300], [1605, 2029]]
    svg.append("g").selectAll("rect").data(thick).join("rect")
        .attr("x", d => d[0]).attr("y", 509).attr("width", d => d[1] - d[0]).attr("height", 7)
        .attr("fill", "#cfcfcf")

    // ---------------- bottom panel ----------------
    draw_grid(y_int, intensity_ticks)

    const g_bot = svg.append("g").attr("clip-path", "url(#clip_bot)")
    const int_line = d3.line().x(d => x(d[0])).y(d => y_int(d[1]))
    const int_burst = d3.area().x(d => x(d[0])).y0(y_int(0)).y1(d => y_int(d[1]))

    g_bot.append("path").datum(blue_intensity)
        .attr("d", int_line)
        .attr("fill", "none").attr("stroke", "#1414b0").attr("stroke-width", 2.6)
    g_bot.append("path").datum(yellow_intensity)
        .attr("d", int_line)
        .attr("fill", "none").attr("stroke", "#efc300").attr("stroke-width", 2.6)
    g_bot.append("g").selectAll("path").data(yellow_intensity_bursts).join("path")
        .attr("d", int_burst)
        .attr("fill", "url(#yellow_stripes)")
    g_bot.append("g").selectAll("line").data(yellow_intensity_spikes).join("line")
        .attr("x1", d => x(d[0])).attr("x2", d => x(d[0]))
        .attr("y1", y_int(0)).attr("y2", d => y_int(d[1]))
        .attr("stroke", "#efc300").attr("stroke-width", 2.2)
    g_bot.append("g").selectAll("line").data(blue_intensity_spikes).join("line")
        .attr("x1", d => x(d[0])).attr("x2", d => x(d[0]))
        .attr("y1", y_int(0)).attr("y2", d => y_int(d[1]))
        .attr("stroke", "#1414b0").attr("stroke-width", 2)

    draw_axes(y_int, intensity_ticks, intensity_minor_ticks, d3.format("d"), 7)

    // the y title is partly hidden under the separator, as in the screenshot
    svg.append("g")
        .attr("clip-path", "url(#clip_ylabel)")
        .append("text")
        .attr("transform", "translate(32,727) rotate(-90)")
        .attr("dominant-baseline", "central")
        .attr("font-family", font).attr("font-size", 17).attr("fill", "#222")
        .text("Total Intensity [PP x 10^11]")

    // x title is half covered by the legend box
    svg.append("text")
        .attr("clip-path", "url(#clip_time)")
        .attr("x", 1045).attr("y", 750)
        .attr("text-anchor", "middle")
        .attr("font-family", font).attr("font-size", 17).attr("fill", "#111")
        .text("Time (Start Fill = 34388)")

    // bottom legend
    const bot_legend = [
        {label: "Blue intensity", x1: 883, x2: 914, tx: 927, line: "#1c1ca8", text: "#1a3cf0"},
        {label: "Yellow intensity", x1: 1073, x2: 1102, tx: 1130, line: "#f0c400", text: "#ff9500"},
    ]
    bot_legend.forEach(function(d) {
        svg.append("line").attr("x1", d.x1).attr("x2", d.x2).attr("y1", 767).attr("y2", 767)
            .attr("stroke", d.line).attr("stroke-width", 3)
        svg.append("text").attr("x", d.tx).attr("y", 767)
            .attr("dominant-baseline", "central")
            .attr("font-family", font).attr("font-size", 18).attr("font-weight", "bold")
            .attr("fill", d.text).text(d.label)
    })
}

draw_chart()
</script>
</body>
</html>
